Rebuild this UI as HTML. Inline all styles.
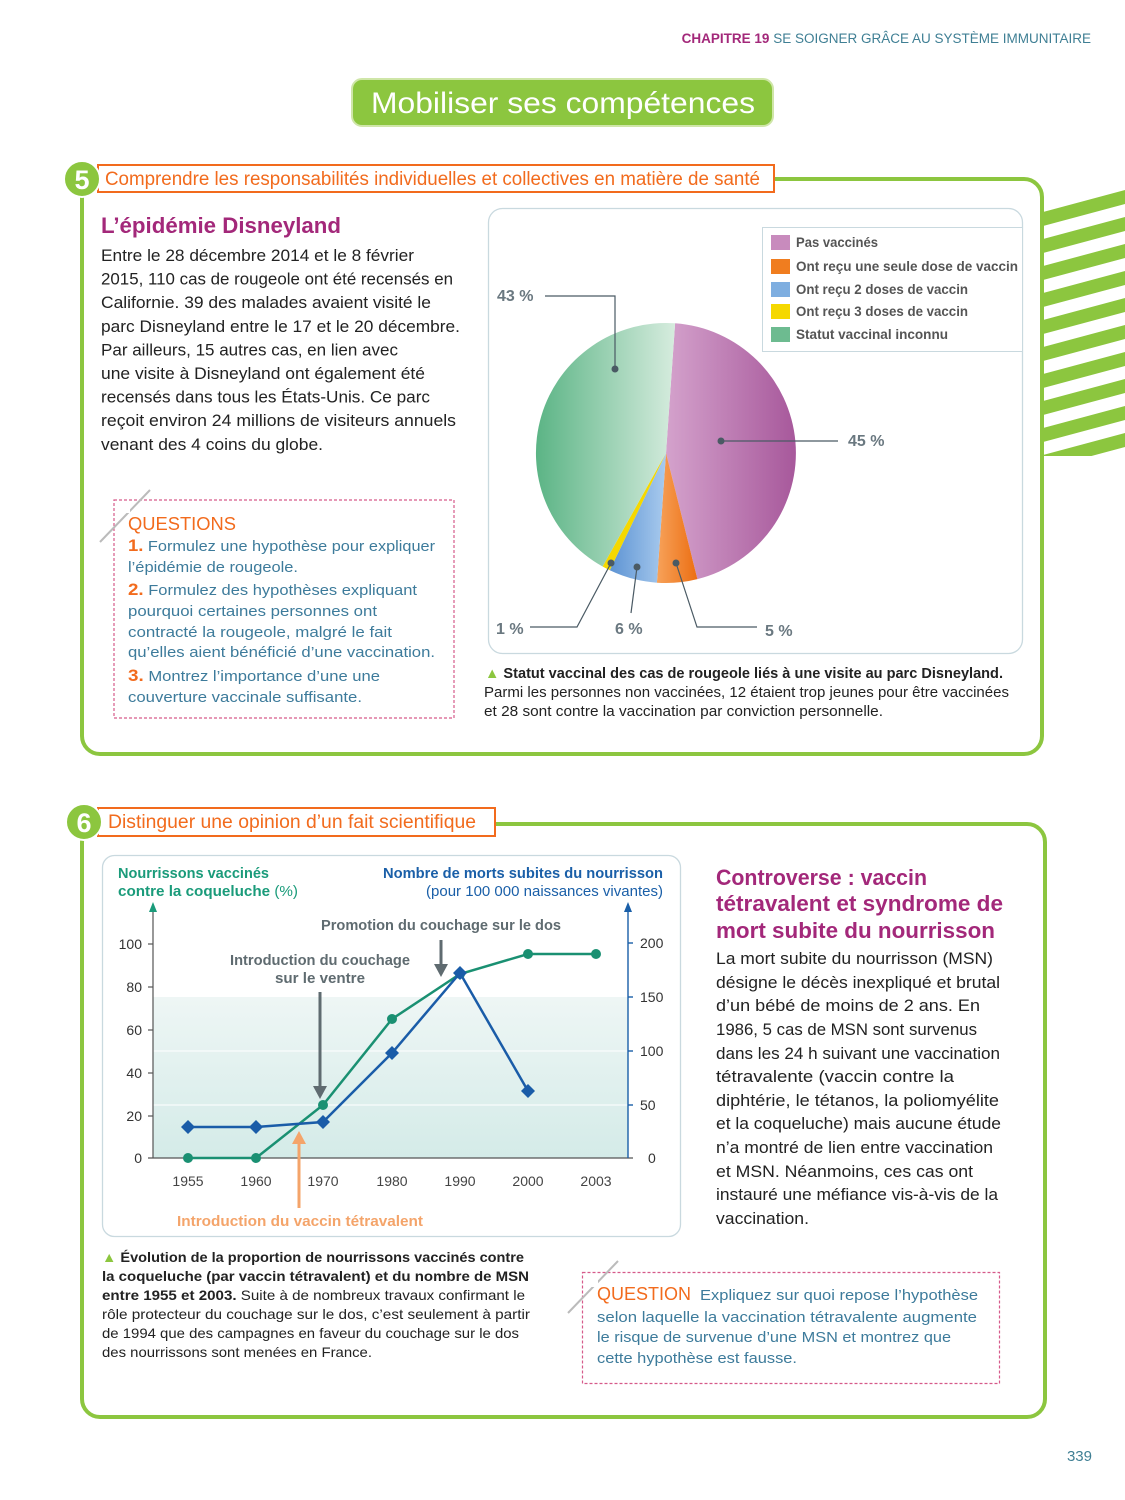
<!DOCTYPE html>
<html><head><meta charset="utf-8"><style>
html,body{margin:0;padding:0;background:#fff;}
svg{display:block;font-family:"Liberation Sans",sans-serif;}
</style></head><body>
<svg width="1125" height="1500" viewBox="0 0 1125 1500" xmlns="http://www.w3.org/2000/svg">
<defs>
<linearGradient id="gp" x1="0" y1="0" x2="1" y2="0"><stop offset="0" stop-color="#d4a2cc"/><stop offset="1" stop-color="#a7589b"/></linearGradient>
<linearGradient id="gg" x1="0" y1="0" x2="1" y2="0"><stop offset="0" stop-color="#5bb485"/><stop offset="1" stop-color="#d6ecde"/></linearGradient>
<linearGradient id="gb" x1="0" y1="0" x2="1" y2="0"><stop offset="0" stop-color="#5d93d3"/><stop offset="1" stop-color="#a9cbee"/></linearGradient>
<linearGradient id="go" x1="0" y1="0" x2="1" y2="0"><stop offset="0" stop-color="#f7a25a"/><stop offset="1" stop-color="#ec6e12"/></linearGradient>
<linearGradient id="band" x1="0" y1="0" x2="0" y2="1"><stop offset="0" stop-color="#eef6f5"/><stop offset="1" stop-color="#d4ebe8"/></linearGradient>
<clipPath id="stc"><rect x="1044" y="188" width="81" height="268"/></clipPath>
</defs>

<text x="1091" y="43" font-size="13.5" text-anchor="end" fill="#3f7f94"><tspan fill="#a3287a" font-weight="bold">CHAPITRE 19</tspan> SE SOIGNER GRÂCE AU SYSTÈME IMMUNITAIRE</text>

<rect x="352" y="79" width="421" height="47" rx="10" fill="#8cc63f" stroke="#cfe6a8" stroke-width="2"/>
<text x="563" y="113" font-size="30" fill="#fff" text-anchor="middle" textLength="384" lengthAdjust="spacingAndGlyphs">Mobiliser ses compétences</text>

<g clip-path="url(#stc)" fill="#8cc63f">
<polygon points="1043,212 1125,190 1125,204 1043,226"/>
<polygon points="1043,239 1125,217 1125,231 1043,253"/>
<polygon points="1043,266 1125,244 1125,258 1043,280"/>
<polygon points="1043,293 1125,271 1125,285 1043,307"/>
<polygon points="1043,320 1125,298 1125,312 1043,334"/>
<polygon points="1043,347 1125,325 1125,339 1043,361"/>
<polygon points="1043,374 1125,352 1125,366 1043,388"/>
<polygon points="1043,401 1125,379 1125,393 1043,415"/>
<polygon points="1043,428 1125,406 1125,420 1043,442"/>
<polygon points="1043,455 1125,433 1125,447 1043,469"/>
</g>

<rect x="82" y="179" width="960" height="575" rx="18" fill="none" stroke="#8cc63f" stroke-width="4"/>
<rect x="98" y="165" width="676" height="27" fill="#fff" stroke="#f26b1d" stroke-width="2"/>
<circle cx="82" cy="179" r="18" fill="#8cc63f" stroke="#fff" stroke-width="2"/>
<text x="82" y="189" font-size="27" font-weight="bold" fill="#fff" text-anchor="middle">5</text>
<text x="105" y="185" font-size="19" fill="#f26b1d" textLength="655" lengthAdjust="spacingAndGlyphs">Comprendre les responsabilités individuelles et collectives en matière de santé</text>

<text x="101" y="233" font-size="22" font-weight="bold" fill="#a3287a" textLength="240" lengthAdjust="spacingAndGlyphs">L’épidémie Disneyland</text>
<g font-size="16.5" fill="#222">
<text x="101" y="261" textLength="313" lengthAdjust="spacingAndGlyphs">Entre le 28 décembre 2014 et le 8 février</text>
<text x="101" y="284.6" textLength="352" lengthAdjust="spacingAndGlyphs">2015, 110 cas de rougeole ont été recensés en</text>
<text x="101" y="308.2" textLength="330" lengthAdjust="spacingAndGlyphs">Californie. 39 des malades avaient visité le</text>
<text x="101" y="331.8" textLength="359" lengthAdjust="spacingAndGlyphs">parc Disneyland entre le 17 et le 20 décembre.</text>
<text x="101" y="355.4" textLength="297" lengthAdjust="spacingAndGlyphs">Par ailleurs, 15 autres cas, en lien avec</text>
<text x="101" y="379" textLength="324" lengthAdjust="spacingAndGlyphs">une visite à Disneyland ont également été</text>
<text x="101" y="402.6" textLength="329" lengthAdjust="spacingAndGlyphs">recensés dans tous les États-Unis. Ce parc</text>
<text x="101" y="426.2" textLength="355" lengthAdjust="spacingAndGlyphs">reçoit environ 24 millions de visiteurs annuels</text>
<text x="101" y="449.8" textLength="222" lengthAdjust="spacingAndGlyphs">venant des 4 coins du globe.</text>
</g>

<rect x="114" y="500" width="340" height="218" fill="none" stroke="#d65a8a" stroke-width="1.2" stroke-dasharray="3,2"/>
<line x1="100" y1="542" x2="150" y2="490" stroke="#bbb" stroke-width="2"/>
<rect x="118" y="503" width="12" height="10" fill="#fff"/>
<text x="128" y="530" font-size="18" fill="#f26b1d" textLength="108" lengthAdjust="spacingAndGlyphs">QUESTIONS</text>
<g font-size="15" fill="#3d7b9b">
<text x="128" y="551" textLength="307" lengthAdjust="spacingAndGlyphs"><tspan fill="#f26b1d" font-weight="bold" font-size="17">1.</tspan> Formulez une hypothèse pour expliquer</text>
<text x="128" y="572" textLength="170" lengthAdjust="spacingAndGlyphs">l’épidémie de rougeole.</text>
<text x="128" y="595" textLength="289" lengthAdjust="spacingAndGlyphs"><tspan fill="#f26b1d" font-weight="bold" font-size="17">2.</tspan> Formulez des hypothèses expliquant</text>
<text x="128" y="616" textLength="249" lengthAdjust="spacingAndGlyphs">pourquoi certaines personnes ont</text>
<text x="128" y="637" textLength="264" lengthAdjust="spacingAndGlyphs">contracté la rougeole, malgré le fait</text>
<text x="128" y="657" textLength="307" lengthAdjust="spacingAndGlyphs">qu’elles aient bénéficié d’une vaccination.</text>
<text x="128" y="681" textLength="252" lengthAdjust="spacingAndGlyphs"><tspan fill="#f26b1d" font-weight="bold" font-size="17">3.</tspan> Montrez l’importance d’une une</text>
<text x="128" y="702" textLength="234" lengthAdjust="spacingAndGlyphs">couverture vaccinale suffisante.</text>
</g>

<rect x="488.5" y="208.5" width="534" height="445" rx="14" fill="#fff" stroke="#c9d9df" stroke-width="1.3"/>
<path d="M666,453 L675.1,323.3 A130,130 0 0 1 697.4,579.1 Z" fill="url(#gp)"/>
<path d="M666,453 L697.4,579.1 A130,130 0 0 1 656.9,582.7 Z" fill="url(#go)"/>
<path d="M666,453 L656.9,582.7 A130,130 0 0 1 609.8,570.2 Z" fill="url(#gb)"/>
<path d="M666,453 L609.8,570.2 A130,130 0 0 1 602.6,566.5 Z" fill="#f5d800"/>
<path d="M666,453 L602.6,566.5 A130,130 0 0 1 675.1,323.3 Z" fill="url(#gg)"/>
<g stroke="#4a5a64" stroke-width="1.2" fill="none">
<polyline points="545,296 615,296 615,369"/>
<polyline points="721,441 838,441"/>
<polyline points="530,627 577,627 611,563"/>
<polyline points="631,613 637,567"/>
<polyline points="757,627 697,627 676,563"/>
</g>
<g fill="#4a5a64"><circle cx="615" cy="369" r="3.5"/><circle cx="721" cy="441" r="3.5"/><circle cx="611" cy="563" r="3.5"/><circle cx="637" cy="567" r="3.5"/><circle cx="676" cy="563" r="3.5"/></g>
<g font-size="16" font-weight="bold" fill="#6a7880">
<text x="497" y="301">43 %</text><text x="848" y="446">45 %</text><text x="496" y="634">1 %</text><text x="615" y="634">6 %</text><text x="765" y="636">5 %</text>
</g>
<rect x="762.5" y="227.5" width="260" height="124" fill="#fff" stroke="#c9d9df"/>
<rect x="771" y="235" width="19" height="15" fill="#c88bbd"/>
<rect x="771" y="259" width="19" height="15" fill="#f07d1f"/>
<rect x="771" y="282" width="19" height="15" fill="#7eaee0"/>
<rect x="771" y="304" width="19" height="15" fill="#f5d800"/>
<rect x="771" y="327" width="19" height="15" fill="#6dbb90"/>
<g font-size="14" fill="#555" font-weight="bold">
<text x="796" y="247" textLength="82" lengthAdjust="spacingAndGlyphs">Pas vaccinés</text>
<text x="796" y="271" textLength="222" lengthAdjust="spacingAndGlyphs">Ont reçu une seule dose de vaccin</text>
<text x="796" y="294" textLength="172" lengthAdjust="spacingAndGlyphs">Ont reçu 2 doses de vaccin</text>
<text x="796" y="316" textLength="172" lengthAdjust="spacingAndGlyphs">Ont reçu 3 doses de vaccin</text>
<text x="796" y="339" textLength="152" lengthAdjust="spacingAndGlyphs">Statut vaccinal inconnu</text>
</g>
<g font-size="14.5" fill="#222">
<text x="485" y="678" textLength="518" lengthAdjust="spacingAndGlyphs" font-weight="bold"><tspan fill="#8cc63f">▲</tspan> Statut vaccinal des cas de rougeole liés à une visite au parc Disneyland.</text>
<text x="484" y="697" textLength="525" lengthAdjust="spacingAndGlyphs">Parmi les personnes non vaccinées, 12 étaient trop jeunes pour être vaccinées</text>
<text x="484" y="716" textLength="399" lengthAdjust="spacingAndGlyphs">et 28 sont contre la vaccination par conviction personnelle.</text>
</g>

<rect x="82" y="824" width="963" height="593" rx="18" fill="none" stroke="#8cc63f" stroke-width="4"/>
<rect x="98" y="808" width="397" height="28" fill="#fff" stroke="#f26b1d" stroke-width="2"/>
<circle cx="84" cy="822" r="18" fill="#8cc63f" stroke="#fff" stroke-width="2"/>
<text x="84" y="832" font-size="27" font-weight="bold" fill="#fff" text-anchor="middle">6</text>
<text x="108" y="828" font-size="19" fill="#f26b1d" textLength="368" lengthAdjust="spacingAndGlyphs">Distinguer une opinion d’un fait scientifique</text>

<rect x="102.5" y="855.5" width="578" height="381" rx="12" fill="#fff" stroke="#c9d9df" stroke-width="1.3"/>
<rect x="153" y="997" width="475" height="161" fill="url(#band)"/>
<line x1="153" y1="1051" x2="628" y2="1051" stroke="#fff" stroke-width="1"/>
<line x1="153" y1="1105" x2="628" y2="1105" stroke="#fff" stroke-width="1"/>
<g font-weight="bold" font-size="14.5">
<text x="118" y="878" fill="#1a9b7a" textLength="151" lengthAdjust="spacingAndGlyphs">Nourrissons vaccinés</text>
<text x="118" y="896" fill="#1a9b7a" textLength="180" lengthAdjust="spacingAndGlyphs">contre la coqueluche <tspan font-weight="normal">(%)</tspan></text>
<text x="663" y="878" fill="#1a5fa8" text-anchor="end" textLength="280" lengthAdjust="spacingAndGlyphs">Nombre de morts subites du nourrisson</text>
<text x="663" y="896" fill="#1a5fa8" text-anchor="end" font-weight="normal" textLength="237" lengthAdjust="spacingAndGlyphs">(pour 100 000 naissances vivantes)</text>
</g>
<g stroke="#555" stroke-width="1.2">
<line x1="153" y1="1158" x2="153" y2="908"/><line x1="148" y1="1158" x2="633" y2="1158"/>
<line x1="148" y1="944" x2="153" y2="944"/><line x1="148" y1="987" x2="153" y2="987"/><line x1="148" y1="1030" x2="153" y2="1030"/><line x1="148" y1="1073" x2="153" y2="1073"/><line x1="148" y1="1116" x2="153" y2="1116"/>
</g>
<polygon points="153,902 149,912 157,912" fill="#1a9b7a"/>
<g stroke="#1a5fa8" stroke-width="1.4">
<line x1="628" y1="1158" x2="628" y2="908"/>
<line x1="628" y1="943" x2="633" y2="943"/><line x1="628" y1="997" x2="633" y2="997"/><line x1="628" y1="1051" x2="633" y2="1051"/><line x1="628" y1="1105" x2="633" y2="1105"/>
</g>
<polygon points="628,902 624,912 632,912" fill="#1a5fa8"/>
<g font-size="14" fill="#333" text-anchor="end">
<text x="142" y="949">100</text><text x="142" y="992">80</text><text x="142" y="1035">60</text><text x="142" y="1078">40</text><text x="142" y="1121">20</text><text x="142" y="1163">0</text>
</g>
<g font-size="14" fill="#333">
<text x="640" y="948">200</text><text x="640" y="1002">150</text><text x="640" y="1056">100</text><text x="640" y="1110">50</text><text x="648" y="1163">0</text>
</g>
<g font-size="14" fill="#444" text-anchor="middle">
<text x="188" y="1186">1955</text><text x="256" y="1186">1960</text><text x="323" y="1186">1970</text><text x="392" y="1186">1980</text><text x="460" y="1186">1990</text><text x="528" y="1186">2000</text><text x="596" y="1186">2003</text>
</g>
<polyline points="188,1158 256,1158 323,1105 392,1019 460,974 528,954 596,954" fill="none" stroke="#1a9072" stroke-width="2.5"/>
<g fill="#1a9072"><circle cx="188" cy="1158" r="5"/><circle cx="256" cy="1158" r="5"/><circle cx="323" cy="1105" r="5"/><circle cx="392" cy="1019" r="5"/><circle cx="460" cy="974" r="5"/><circle cx="528" cy="954" r="5"/><circle cx="596" cy="954" r="5"/></g>
<polyline points="188,1127 256,1127 323,1122 392,1053 460,973 528,1091" fill="none" stroke="#1a5ca8" stroke-width="2.5"/>
<g fill="#1a5ca8">
<polygon points="188,1120 195,1127 188,1134 181,1127"/><polygon points="256,1120 263,1127 256,1134 249,1127"/><polygon points="323,1115 330,1122 323,1129 316,1122"/><polygon points="392,1046 399,1053 392,1060 385,1053"/><polygon points="460,966 467,973 460,980 453,973"/><polygon points="528,1084 535,1091 528,1098 521,1091"/>
</g>
<g font-size="14.5" font-weight="bold" fill="#5f6b70" text-anchor="middle">
<text x="441" y="930" textLength="240" lengthAdjust="spacingAndGlyphs">Promotion du couchage sur le dos</text>
<text x="320" y="965" textLength="180" lengthAdjust="spacingAndGlyphs">Introduction du couchage</text>
<text x="320" y="983" textLength="90" lengthAdjust="spacingAndGlyphs">sur le ventre</text>
</g>
<line x1="441" y1="940" x2="441" y2="966" stroke="#5f6b70" stroke-width="3"/>
<polygon points="434,964 448,964 441,977" fill="#5f6b70"/>
<line x1="320" y1="992" x2="320" y2="1088" stroke="#5f6b70" stroke-width="3"/>
<polygon points="313,1086 327,1086 320,1099" fill="#5f6b70"/>
<line x1="299" y1="1208" x2="299" y2="1142" stroke="#f4a46a" stroke-width="3"/>
<polygon points="292,1144 306,1144 299,1131" fill="#f4a46a"/>
<text x="300" y="1226" font-size="14.5" font-weight="bold" fill="#f4a46a" text-anchor="middle" textLength="246" lengthAdjust="spacingAndGlyphs">Introduction du vaccin tétravalent</text>

<g font-size="14" fill="#222">
<text x="102" y="1262" font-weight="bold" textLength="422" lengthAdjust="spacingAndGlyphs"><tspan fill="#8cc63f">▲</tspan> Évolution de la proportion de nourrissons vaccinés contre</text>
<text x="102" y="1281" font-weight="bold" textLength="427" lengthAdjust="spacingAndGlyphs">la coqueluche (par vaccin tétravalent) et du nombre de MSN</text>
<text x="102" y="1300" textLength="423" lengthAdjust="spacingAndGlyphs"><tspan font-weight="bold">entre 1955 et 2003.</tspan> Suite à de nombreux travaux confirmant le</text>
<text x="102" y="1319" textLength="428" lengthAdjust="spacingAndGlyphs">rôle protecteur du couchage sur le dos, c’est seulement à partir</text>
<text x="102" y="1338" textLength="417" lengthAdjust="spacingAndGlyphs">de 1994 que des campagnes en faveur du couchage sur le dos</text>
<text x="102" y="1357" textLength="270" lengthAdjust="spacingAndGlyphs">des nourrissons sont menées en France.</text>
</g>

<g font-size="22" font-weight="bold" fill="#a3287a">
<text x="716" y="885" textLength="211" lengthAdjust="spacingAndGlyphs">Controverse : vaccin</text>
<text x="716" y="911" textLength="287" lengthAdjust="spacingAndGlyphs">tétravalent et syndrome de</text>
<text x="716" y="938" textLength="279" lengthAdjust="spacingAndGlyphs">mort subite du nourrisson</text>
</g>
<g font-size="16.5" fill="#222">
<text x="716" y="964" textLength="277" lengthAdjust="spacingAndGlyphs">La mort subite du nourrisson (MSN)</text>
<text x="716" y="988" textLength="284" lengthAdjust="spacingAndGlyphs">désigne le décès inexpliqué et brutal</text>
<text x="716" y="1011" textLength="264" lengthAdjust="spacingAndGlyphs">d’un bébé de moins de 2 ans. En</text>
<text x="716" y="1035" textLength="261" lengthAdjust="spacingAndGlyphs">1986, 5 cas de MSN sont survenus</text>
<text x="716" y="1059" textLength="284" lengthAdjust="spacingAndGlyphs">dans les 24 h suivant une vaccination</text>
<text x="716" y="1082" textLength="238" lengthAdjust="spacingAndGlyphs">tétravalente (vaccin contre la</text>
<text x="716" y="1106" textLength="283" lengthAdjust="spacingAndGlyphs">diphtérie, le tétanos, la poliomyélite</text>
<text x="716" y="1129" textLength="285" lengthAdjust="spacingAndGlyphs">et la coqueluche) mais aucune étude</text>
<text x="716" y="1153" textLength="277" lengthAdjust="spacingAndGlyphs">n’a montré de lien entre vaccination</text>
<text x="716" y="1177" textLength="257" lengthAdjust="spacingAndGlyphs">et MSN. Néanmoins, ces cas ont</text>
<text x="716" y="1200" textLength="282" lengthAdjust="spacingAndGlyphs">instauré une méfiance vis-à-vis de la</text>
<text x="716" y="1224" textLength="93" lengthAdjust="spacingAndGlyphs">vaccination.</text>
</g>

<rect x="582.5" y="1272.5" width="417" height="111" fill="none" stroke="#d65a8a" stroke-width="1.2" stroke-dasharray="3,2"/>
<line x1="568" y1="1313" x2="618" y2="1261" stroke="#bbb" stroke-width="2"/>
<rect x="586" y="1275" width="12" height="12" fill="#fff"/>
<text x="597" y="1300" font-size="18" fill="#f26b1d" textLength="94" lengthAdjust="spacingAndGlyphs">QUESTION</text>
<g font-size="15" fill="#3d7b9b">
<text x="700" y="1300" textLength="278" lengthAdjust="spacingAndGlyphs">Expliquez sur quoi repose l’hypothèse</text>
<text x="597" y="1322" textLength="380" lengthAdjust="spacingAndGlyphs">selon laquelle la vaccination tétravalente augmente</text>
<text x="597" y="1342" textLength="354" lengthAdjust="spacingAndGlyphs">le risque de survenue d’une MSN et montrez que</text>
<text x="597" y="1363" textLength="200" lengthAdjust="spacingAndGlyphs">cette hypothèse est fausse.</text>
</g>

<text x="1092" y="1461" font-size="15" fill="#3f7f94" text-anchor="end">339</text>
</svg>
</body></html>
